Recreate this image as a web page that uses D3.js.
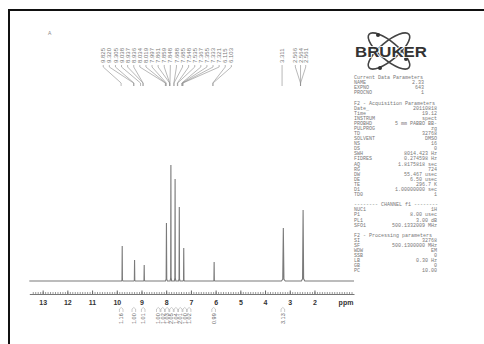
<!DOCTYPE html>
<html>
<head>
<meta charset="utf-8">
<script src="https://cdn.jsdelivr.net/npm/d3@7"></script>
<style>
  body { margin: 0; background: #fff; }
  svg { display: block; }
</style>
</head>
<body>
<div id="chart"></div>
<script>
// chemical shift axis
var ppmTicks = [13, 12, 11, 10, 9, 8, 7, 6, 5, 4, 3, 2];

// spectrum peaks (ppm, relative intensity, half width in ppm)
var peakPpm = [9.78, 9.28, 8.89, 7.99, 7.81, 7.64, 7.47, 7.29, 6.06, 3.26, 2.46];
var peakHeight = [35, 21, 16, 58, 116, 102, 74, 33, 19, 53, 71];
var peakWidth = [0.03, 0.03, 0.03, 0.04, 0.03, 0.03, 0.03, 0.03, 0.03, 0.08, 0.07];

// picked peak labels
var pickLeft = [9.825, 9.320, 9.305, 9.038, 8.937, 8.936, 8.034, 8.019, 7.997, 7.861, 7.859,
  7.848, 7.688, 7.685, 7.548, 7.535, 7.367, 7.355, 7.333, 7.321, 6.115, 6.103];
var pickRight = [3.311, 2.566, 2.564, 2.561];

// integrals
var integralPpm = [9.82, 9.31, 8.93, 8.03, 7.99, 7.86, 7.81, 7.69, 7.54, 7.35, 7.30, 6.08, 3.28];
var integralValue = ["1.16", "1.00", "1.01", "1.00", "1.02", "1.03", "2.05", "1.04", "2.01", "1.00", "1.02", "0.99", "3.13"];

// parameter listing next to the logo
var paramNames = ["Current Data Parameters", "NAME", "EXPNO", "PROCNO", "",
  "F2 - Acquisition Parameters", "Date_", "Time", "INSTRUM", "PROBHD", "PULPROG", "TD", "SOLVENT",
  "NS", "DS", "SWH", "FIDRES", "AQ", "RG", "DW", "DE", "TE", "D1", "TD0", "",
  "-------- CHANNEL f1 --------", "NUC1", "P1", "PL1", "SFO1", "",
  "F2 - Processing parameters", "SI", "SF", "WDW", "SSB", "LB", "GB", "PC"];
var paramValues = ["", "2.33", "643", "1", "",
  "", "20110818", "19.12", "spect", "5 mm PABBO BB-", "zg", "32768", "DMSO",
  "16", "0", "8014.423 Hz", "0.274598 Hz", "1.8175818 sec", "724", "55.467 usec", "6.50 usec", "296.7 K", "1.00000000 sec", "1", "",
  "", "1H", "8.00 usec", "3.00 dB", "500.1332009 MHz", "",
  "", "32768", "500.1300000 MHz", "EM", "0", "0.30 Hz", "0", "10.00"];

var width = 484, height = 344;
var baseY = 281, axisY = 294;
var ink = "#555";

var svg = d3.select("#chart").append("svg")
  .attr("width", width)
  .attr("height", height);

var x = d3.scaleLinear()
  .domain([13.54, 0.4])
  .range([29.3, 354]);

var y = d3.scaleLinear()
  .domain([0, 116])
  .range([baseY, baseY - 116]);

// scanned page frame
svg.append("rect")
  .attr("x", 9).attr("y", 10)
  .attr("width", 490).attr("height", 350)
  .attr("fill", "none")
  .attr("stroke", "#111")
  .attr("stroke-width", 2);

svg.append("text")
  .attr("x", 48).attr("y", 35)
  .style("font", "5px 'Liberation Sans'")
  .style("fill", "#888")
  .text("A");

// spectrum trace: baseline with each peak drawn from the peak arrays
var trace = [[13.54, 0]];
peakPpm.forEach(function (p, i) {
  var w = peakWidth[i], h = peakHeight[i];
  trace.push([p + w, 0], [p + w * 0.3, h * 0.03], [p, h], [p - w * 0.3, h * 0.03], [p - w, 0]);
});
trace.push([0.4, 0]);

var line = d3.line()
  .x(function (d) { return x(d[0]); })
  .y(function (d) { return y(d[1]); });

svg.append("path")
  .datum(trace)
  .attr("d", line)
  .attr("fill", "none")
  .attr("stroke", "#7a7a7a")
  .attr("stroke-width", 1.1);

// axis: dense minor ticks plus labelled integers
var minor = d3.range(134, 4, -1).map(function (v) { return v / 10; });
svg.append("g")
  .attr("transform", "translate(0," + axisY + ")")
  .call(d3.axisBottom(x).tickValues(minor).tickSize(-2).tickSizeOuter(0).tickFormat(""))
  .call(function (g) {
    g.select(".domain").attr("stroke", "#777");
    g.selectAll(".tick line").attr("stroke", "#999");
  });

var ax = svg.append("g")
  .attr("transform", "translate(0," + axisY + ")")
  .call(d3.axisBottom(x).tickValues(ppmTicks).tickSize(-3.5).tickSizeOuter(0).tickPadding(6).tickFormat(d3.format("d")));
ax.select(".domain").remove();
ax.selectAll(".tick line").attr("stroke", "#666");
ax.selectAll(".tick text")
  .style("font", "bold 7px 'Liberation Sans'")
  .style("fill", "#333");

svg.append("text")
  .attr("x", 346).attr("y", axisY + 11)
  .attr("text-anchor", "middle")
  .style("font", "bold 7px 'Liberation Sans'")
  .style("fill", "#333")
  .text("ppm");

// spread crowded labels apart, keeping each cluster centred on its peaks
function spread(desired, gap) {
  var cl = desired.map(function (d) { return { n: 1, sum: d }; });
  var moved = true;
  while (moved) {
    moved = false;
    for (var i = 0; i < cl.length - 1; i++) {
      var a = cl[i], b = cl[i + 1];
      var aEnd = a.sum / a.n + (a.n - 1) / 2 * gap;
      var bStart = b.sum / b.n - (b.n - 1) / 2 * gap;
      if (bStart - aEnd < gap) {
        cl.splice(i, 2, { n: a.n + b.n, sum: a.sum + b.sum });
        moved = true;
        break;
      }
    }
  }
  var out = [];
  cl.forEach(function (c) {
    var c0 = c.sum / c.n - (c.n - 1) / 2 * gap;
    for (var k = 0; k < c.n; k++) out.push(c0 + k * gap);
  });
  return out;
}

function drawPicks(values, gap) {
  var pos = spread(values.map(function (v) { return x(v); }), gap);
  var g = svg.append("g");
  g.selectAll("path")
    .data(values)
    .enter().append("path")
    .attr("d", function (v, i) {
      return "M" + pos[i] + ",65L" + pos[i] + ",67L" + x(v) + ",83L" + x(v) + ",86";
    })
    .attr("fill", "none")
    .attr("stroke", "#8a8a8a")
    .attr("stroke-width", 0.6);
  g.selectAll("text")
    .data(values)
    .enter().append("text")
    .attr("transform", function (v, i) { return "translate(" + pos[i] + ",63) rotate(-90)"; })
    .attr("dy", "0.35em")
    .style("font", "6px 'Liberation Sans'")
    .style("fill", "#777")
    .text(function (v) { return v.toFixed(3); });
}
drawPicks(pickLeft, 6.1);
drawPicks(pickRight, 5.2);

// integral values below the axis
var intPos = spread(integralPpm.map(function (v) { return x(v); }), 4.4);
var ig = svg.append("g");
ig.selectAll("path")
  .data(integralPpm)
  .enter().append("path")
  .attr("d", function (v, i) {
    var c = intPos[i];
    return "M" + (c - 1.8) + ",312L" + (c - 1.8) + ",309Q" + c + ",306 " + (c + 1.8) + ",309L" + (c + 1.8) + ",312";
  })
  .attr("fill", "none")
  .attr("stroke", "#999")
  .attr("stroke-width", 0.5);
ig.selectAll("text")
  .data(integralValue)
  .enter().append("text")
  .attr("transform", function (v, i) { return "translate(" + intPos[i] + ",324) rotate(-90)"; })
  .attr("dy", "0.35em")
  .style("font", "5.5px 'Liberation Sans'")
  .style("fill", "#666")
  .text(function (v) { return v; });

// Bruker logo
var logo = svg.append("g").attr("transform", "translate(389,51)");
[40, -40].forEach(function (a) {
  logo.append("ellipse")
    .attr("rx", 26).attr("ry", 9)
    .attr("transform", "rotate(" + a + ")")
    .attr("fill", "none")
    .attr("stroke", "#444")
    .attr("stroke-width", 1.6);
});
[[-11, -16], [-9, 17], [17, 8]].forEach(function (p) {
  logo.append("circle")
    .attr("cx", p[0]).attr("cy", p[1]).attr("r", 2)
    .attr("fill", "#333");
});
svg.append("text")
  .attr("x", 355).attr("y", 57)
  .attr("textLength", 72)
  .attr("lengthAdjust", "spacingAndGlyphs")
  .style("font", "bold 14px 'Liberation Sans'")
  .style("fill", "#333")
  .style("stroke", "#fff")
  .style("stroke-width", 1.5)
  .style("paint-order", "stroke")
  .text("BRUKER");

// parameter listing
var params = svg.append("g")
  .style("font", "5px 'Liberation Mono'")
  .style("fill", "#777");
params.selectAll("text.name")
  .data(paramNames)
  .enter().append("text")
  .attr("class", "name")
  .attr("x", 354)
  .attr("y", function (d, i) { return 77.3 + i * 5.09; })
  .attr("dy", "0.35em")
  .text(function (d) { return d; });
params.selectAll("text.value")
  .data(paramValues)
  .enter().append("text")
  .attr("class", "value")
  .attr("x", function (d, i) { return i < 4 ? 424 : 437; })
  .attr("y", function (d, i) { return 77.3 + i * 5.09; })
  .attr("dy", "0.35em")
  .attr("text-anchor", "end")
  .text(function (d) { return d; });
</script>
</body>
</html>
